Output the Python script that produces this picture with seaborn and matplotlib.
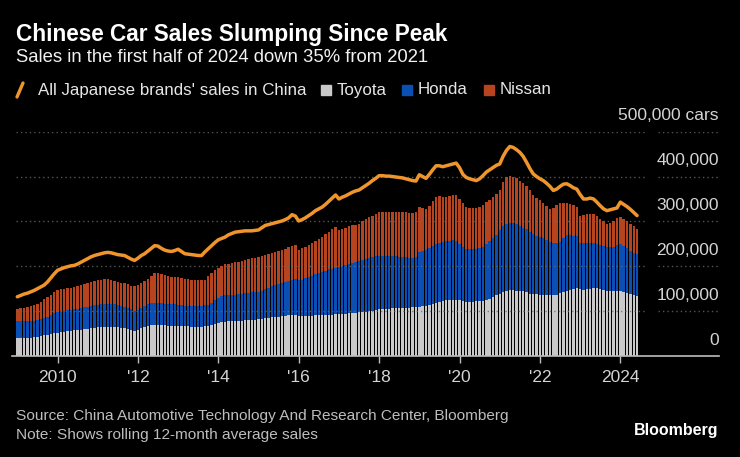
import matplotlib
matplotlib.use("Agg")
import matplotlib.pyplot as plt
from matplotlib.patches import Rectangle
from matplotlib.lines import Line2D
import seaborn as sns
import numpy as np
import pandas as pd

# -----------------------------
# Data (rolling 12-month average sales, thousands of cars), Jan 2009 - Jun 2024
# -----------------------------
start_year = 2009
toyota = [
    41, 41, 41, 41, 41, 42, 43, 44, 46, 47, 49, 51,
    52, 53, 54, 55, 56, 57, 58, 59, 60, 61, 62, 63,
    64, 65, 65, 65, 65, 64, 64, 63, 62, 61, 59, 56,
    58, 62, 65, 67, 68, 69, 69, 68, 68, 67, 67, 67,
    67, 66, 66, 66, 65, 65, 65, 65, 66, 67, 70, 72,
    74, 75, 76, 77, 78, 78, 79, 79, 80, 80, 81, 81,
    82, 83, 84, 85, 86, 87, 88, 89, 90, 91, 92, 92,
    89, 89, 90, 90, 90, 91, 91, 91, 92, 92, 92, 93,
    93, 94, 94, 95, 95, 96, 97, 98, 99, 100, 101, 102,
    104, 104, 105, 105, 106, 106, 107, 107, 108, 108, 109, 109,
    110, 111, 112, 114, 116, 118, 121, 123, 124, 125, 125, 124,
    124, 122, 120, 120, 121, 122, 122, 123, 124, 127, 131, 135,
    139, 143, 146, 147, 147, 146, 146, 145, 142, 139, 138, 138,
    137, 136, 135, 135, 135, 136, 140, 143, 146, 148, 150, 152,
    150, 148, 149, 150, 152, 151, 150, 148, 145, 145, 144, 144,
    144, 142, 140, 138, 136, 134,
]
toyota_plus_honda = [
    78, 78, 78, 78, 78, 79, 80, 82, 84, 87, 91, 95,
    98, 100, 101, 102, 103, 104, 105, 107, 109, 110, 112, 113,
    114, 115, 116, 117, 116, 115, 113, 111, 110, 107, 104, 101,
    103, 108, 112, 115, 118, 119, 119, 118, 117, 116, 115, 115,
    114, 113, 112, 111, 111, 111, 112, 112, 113, 113, 118, 125,
    130, 133, 135, 136, 137, 137, 138, 139, 140, 141, 142, 142,
    143, 146, 149, 152, 155, 158, 160, 163, 166, 168, 170, 171,
    169, 170, 173, 176, 179, 182, 185, 188, 190, 193, 195, 197,
    199, 201, 203, 205, 207, 209, 212, 214, 216, 218, 220, 222,
    224, 224, 224, 224, 223, 222, 221, 220, 220, 219, 219, 221,
    232, 234, 237, 241, 246, 250, 253, 255, 256, 257, 258, 257,
    250, 242, 239, 239, 239, 239, 240, 244, 250, 256, 262, 270,
    280, 290, 295, 296, 296, 294, 290, 286, 282, 277, 272, 268,
    265, 262, 258, 254, 252, 251, 255, 262, 269, 270, 268, 267,
    253, 252, 252, 252, 252, 250, 248, 245, 242, 242, 244, 247,
    250, 246, 240, 235, 230, 227,
]
three_brand_total = [
    104, 106, 108, 110, 112, 114, 117, 120, 126, 131, 137, 142,
    147, 149, 150, 151, 152, 153, 155, 158, 161, 163, 165, 167,
    169, 170, 171, 171, 170, 168, 166, 163, 162, 160, 157, 156,
    158, 163, 167, 172, 178, 184, 185, 183, 180, 178, 177, 176,
    175, 173, 171, 171, 170, 170, 169, 169, 170, 178, 186, 192,
    196, 200, 204, 206, 208, 209, 210, 212, 214, 216, 218, 219,
    221, 223, 225, 227, 229, 231, 233, 236, 239, 242, 245, 247,
    237, 240, 244, 248, 252, 256, 261, 266, 271, 276, 282, 287,
    280, 283, 286, 289, 291, 293, 295, 300, 305, 309, 313, 317,
    321, 322, 322, 322, 321, 321, 321, 320, 320, 319, 319, 320,
    332, 330, 328, 335, 345, 355, 356, 355, 355, 357, 359, 360,
    350, 340, 332, 330, 330, 330, 332, 337, 343, 348, 355, 362,
    370, 388, 400, 401, 400, 396, 391, 385, 378, 370, 360, 352,
    347, 340, 334, 328, 330, 336, 341, 340, 340, 339, 336, 332,
    313, 315, 316, 316, 317, 312, 305, 300, 295, 297, 302, 307,
    310, 305, 300, 295, 290, 284,
]
all_japanese = [
    132, 135, 138, 140, 143, 146, 150, 154, 158, 165, 174, 183,
    191, 194, 197, 199, 201, 202, 205, 209, 213, 217, 221, 224,
    226, 228, 230, 231, 230, 228, 226, 225, 224, 220, 216, 213,
    218, 224, 228, 234, 240, 246, 245, 240, 236, 234, 233, 235,
    238, 233, 228, 227, 226, 225, 224, 224, 232, 239, 246, 253,
    259, 262, 265, 270, 273, 276, 277, 278, 279, 279, 279, 280,
    281, 286, 291, 293, 295, 297, 299, 301, 304, 308, 315, 312,
    301, 304, 308, 313, 318, 324, 328, 332, 338, 345, 352, 359,
    350, 354, 357, 361, 365, 368, 370, 375, 380, 385, 391, 396,
    402, 402, 401, 401, 400, 399, 398, 397, 395, 393, 391, 390,
    404, 400, 396, 405, 415, 424, 424, 422, 424, 426, 428, 430,
    420, 405, 398, 395, 393, 391, 395, 402, 410, 415, 420, 425,
    428, 445, 458, 467, 465, 460, 454, 445, 432, 418, 406, 400,
    395, 391, 385, 378, 369, 372, 378, 383, 384, 380, 375, 372,
    360, 350, 350, 352, 350, 343, 335, 328, 324, 326, 328, 330,
    343, 338, 333, 327, 320, 313,
]
xtick_years = [2010, 2012, 2014, 2016, 2018, 2020, 2022, 2024]
xtick_labels = ["2010", "'12", "'14", "'16", "'18", "'20", "'22", "2024"]
ytick_values = [0, 100000, 200000, 300000, 400000]
ytick_labels = ["0", "100,000", "200,000", "300,000", "400,000"]

n = len(toyota)
df = pd.DataFrame({
    "t": start_year + np.arange(n) / 12.0,
    "toyota": np.array(toyota) * 1000,
    "toyota_honda": np.array(toyota_plus_honda) * 1000,
    "total": np.array(three_brand_total) * 1000,
    "all_jp": np.array(all_japanese) * 1000,
})

# -----------------------------
# Style
# -----------------------------
sns.set_style("ticks")
plt.rcParams["font.family"] = ["Liberation Sans", "DejaVu Sans"]

BG = "#000000"
C_TOY = "#c9c9c9"
C_HON = "#0b4fb4"
C_NIS = "#b5441f"
C_LINE = "#ef952c"

fig = plt.figure(figsize=(7.4, 4.57), dpi=100, facecolor=BG)
W, H = 740, 457
ax = fig.add_axes([12 / W, 1 - 356 / H, 707 / W, (356 - 131.7) / H])
ax.set_facecolor(BG)

# stacked bars: draw cumulative levels back to front
bar_w = 0.72
for col, c in [("total", C_NIS), ("toyota_honda", C_HON), ("toyota", C_TOY)]:
    sns.barplot(data=df, x="t", y=col, native_scale=True, color=c,
                width=bar_w, errorbar=None, saturation=1, ax=ax, zorder=2,
                linewidth=0, edgecolor="none")
sns.lineplot(data=df, x="t", y="all_jp", color=C_LINE, linewidth=2.5, ax=ax,
             zorder=5, solid_capstyle="round")

ax.set_xlim(2008.868, 2026.455)
ax.set_ylim(0, 500000)

# dotted gridlines, split before the label column
for v in ytick_values[1:] + [500000]:
    ax.axhline(v, xmin=0.006, xmax=0.898, color="#6a6a6a", lw=1.0,
               linestyle=(0, (1, 2.2)), zorder=3, alpha=0.8)
    ax.axhline(v, xmin=0.914, xmax=1.0, color="#6a6a6a", lw=1.0,
               linestyle=(0, (1, 2.2)), zorder=3, alpha=0.8)

# y labels sitting above gridlines at the right
for v, lab in zip(ytick_values, ytick_labels):
    ax.annotate(lab, xy=(1.0, v), xycoords=("axes fraction", "data"),
                xytext=(0, 11.5), textcoords="offset points",
                ha="right", va="center", color="#d4d4d4", fontsize=12.5)
ax.annotate("500,000 cars", xy=(1.0, 500000), xycoords=("axes fraction", "data"),
            xytext=(0, 11.5), textcoords="offset points",
            ha="right", va="center", color="#d4d4d4", fontsize=12.5)

ax.set_yticks([])
ax.set_ylabel("")
ax.set_xlabel("")
ax.set_xticks(xtick_years)
ax.set_xticklabels(xtick_labels, color="#d4d4d4", fontsize=12.5)
ax.tick_params(axis="x", length=5, width=1, color="#bdbdbd", pad=5)
for s in ["top", "left", "right"]:
    ax.spines[s].set_visible(False)
ax.spines["bottom"].set_color("#bdbdbd")
ax.spines["bottom"].set_linewidth(1.2)
ax.spines["bottom"].set_zorder(6)

# -----------------------------
# Titles, legend, notes
# -----------------------------
fig.text(16 / W, 1 - 35 / H, "Chinese Car Sales Slumping Since Peak", color="white",
         fontsize=16.3, fontweight="bold", va="center", ha="left")
fig.text(16 / W, 1 - 58 / H, "Sales in the first half of 2024 down 35% from 2021",
         color="#f2f2f2", fontsize=13.3, va="center", ha="left")

ly = 1 - 90 / H
fig.add_artist(Line2D([17 / W, 23 / W], [ly - 7 / H, ly + 7 / H], color=C_LINE,
                      lw=2.4, transform=fig.transFigure, solid_capstyle="round"))
fig.text(38 / W, ly, "All Japanese brands' sales in China", color="#e6e6e6",
         fontsize=12.2, va="center", ha="left")
for x0, col, lab in [(321, C_TOY, "Toyota"), (402, C_HON, "Honda"), (484, C_NIS, "Nissan")]:
    fig.add_artist(Rectangle((x0 / W, ly - 5 / H), 9.5 / W, 10 / H, color=col,
                             transform=fig.transFigure))
    fig.text((x0 + 16) / W, ly, lab, color="#e6e6e6", fontsize=12.2,
             va="center", ha="left")

fig.text(16 / W, 1 - 416 / H,
         "Source: China Automotive Technology And Research Center, Bloomberg",
         color="#bdbdbd", fontsize=11.1, va="center", ha="left")
fig.text(16 / W, 1 - 435 / H, "Note: Shows rolling 12-month average sales",
         color="#bdbdbd", fontsize=11.1, va="center", ha="left")
fig.text(718 / W, 1 - 431 / H, "Bloomberg", color="white", fontsize=11.5,
         fontweight="bold", va="center", ha="right")

fig.savefig("out.png", dpi=100, facecolor=BG)
